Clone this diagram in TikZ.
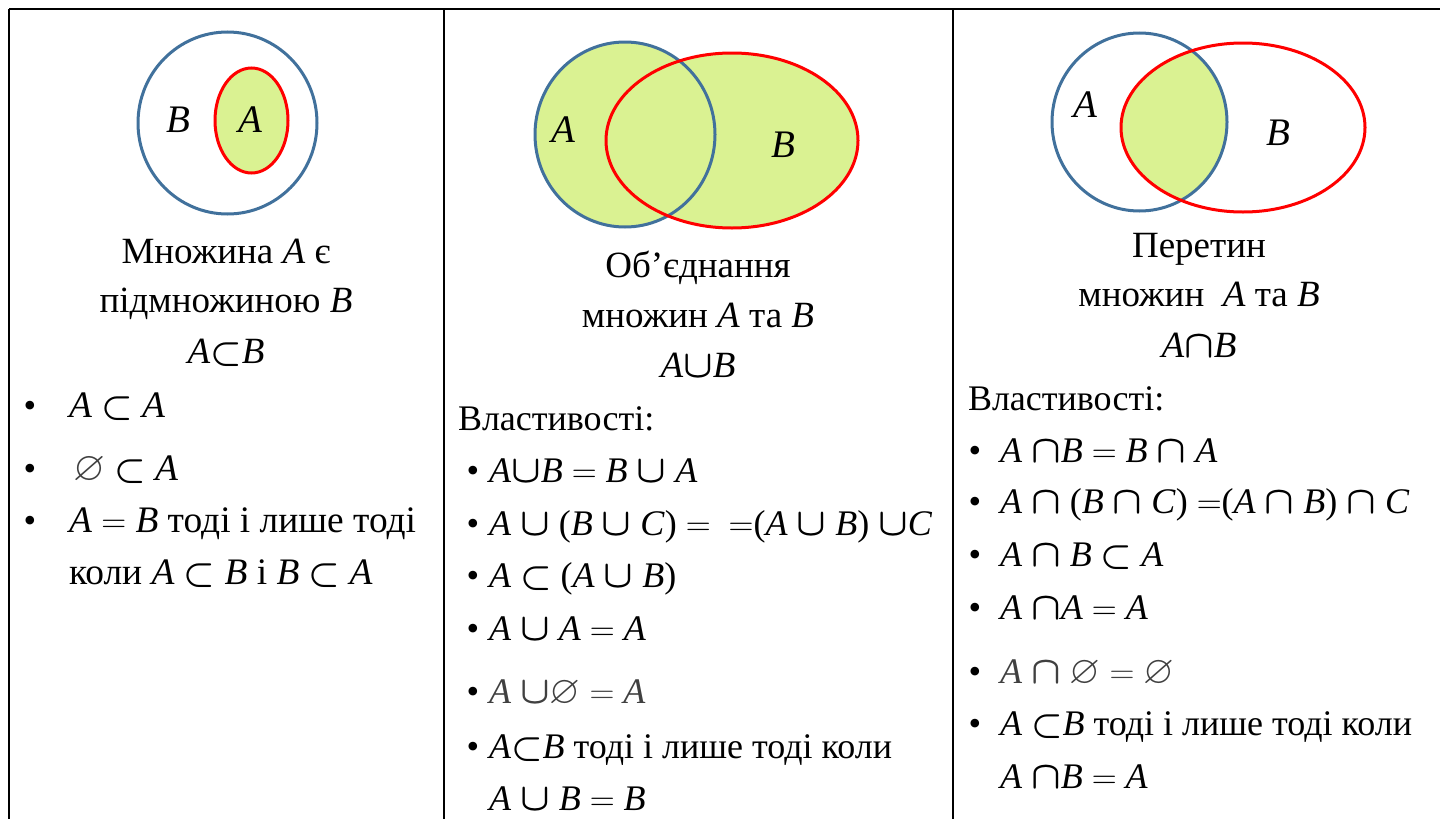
\documentclass[tikz,border=0pt]{standalone}
\usepackage{amsmath,amssymb}
\usepackage{fontspec}
\setmainfont{Liberation Serif}
\definecolor{vblue}{RGB}{65,113,156}
\definecolor{vred}{RGB}{255,0,0}
\definecolor{vfill}{RGB}{218,242,146}
\definecolor{vgray}{RGB}{64,64,64}
\newcommand{\I}[1]{\textit{#1}}
\newcommand{\sU}{\scalebox{1.12}{$\boldsymbol{\cup}$}}
\newcommand{\sN}{\scalebox{1.12}{$\boldsymbol{\cap}$}}
\newcommand{\sS}{\scalebox{1.02}{$\boldsymbol{\subset}$}}
\newcommand{\sE}{\scalebox{1.1}{$\varnothing$}}
\newcommand{\sQ}{$=$}
\begin{document}
\begin{tikzpicture}[x=0.5pt,y=-0.5pt,
  every node/.style={inner sep=0pt,outer sep=0pt},
  body/.style={font=\fontsize{18}{20}\selectfont},
  bodyone/.style={font=\fontsize{18.7}{21}\selectfont},
  item/.style={body,anchor=base west},
  itemone/.style={bodyone,anchor=base west},
  title/.style={font=\fontsize{18.5}{20}\selectfont,anchor=base},
  blt/.style={body,anchor=base},
  lbl/.style={font=\fontsize{19.5}{21}\selectfont\itshape},
  grid/.style={line width=1.3pt,black},
  bline/.style={line width=1.5pt,vblue},
  rline/.style={line width=1.5pt,vred}]
\useasboundingbox (0,0) rectangle (1440,819);
% table lines
\draw[grid] (9,9) -- (1440,9);
\draw[grid] (9,9) -- (9,819);
\draw[grid] (444,9) -- (444,819);
\draw[grid] (953,9) -- (953,819);

% ---- column 1: subset ----
\draw[bline] (227.5,123) ellipse [x radius=89.5,y radius=91];
\draw[rline,fill=vfill] (251.5,120.5) ellipse [x radius=36.5,y radius=52.5];
\node[lbl] (c1B) at (178,120) {B};
\node[lbl] (c1A) at (250,120) {A};

\node[title] (t11) at (226,263) {Множина \I{A} є};
\node[title] (t12) at (226,312) {підмножиною \I{B}};
\node[title] (t13) at (226,363) {\I{A}\sS\I{B}};

\node[blt] (b11) at (30,417) {•};
\node[itemone] (i11) at (69,417) {\I{A} \sS\ \I{A}};
\node[blt] (b12) at (30,480) {•};
\node[itemone] (i12) at (69,480) {\hspace{2pt}{\color{vgray}\sE} \sS\ \I{A}};
\node[blt] (b13) at (30,532) {•};
\node[itemone] (i13) at (69,532) {\I{A} \sQ\ \I{B} тоді і лише тоді};
\node[itemone] (i14) at (69,584) {коли \I{A} \sS\ \I{B} і \I{B} \sS\ \I{A}};

% ---- column 2: union ----
\fill[vfill] (625,134.5) ellipse [x radius=90,y radius=92.5];
\fill[vfill] (732,140.5) ellipse [x radius=126,y radius=87.5];
\draw[bline] (625,134.5) ellipse [x radius=90,y radius=92.5];
\draw[rline] (732,140.5) ellipse [x radius=126,y radius=87.5];
\node[lbl] (c2A) at (563,130) {A};
\node[lbl] (c2B) at (783,145) {B};

\node[title] (t21) at (698,277) {Об’єднання};
\node[title] (t22) at (698,327) {множин \I{A} та \I{B}};
\node[title] (t23) at (698,377) {\I{A}\sU\I{B}};

\node[item] (p2) at (458,430) {Властивості:};
\node[blt] (b21) at (473,482) {•};
\node[item] (i21) at (489,482) {\I{A}\sU\I{B} \sQ\ \I{B} \sU\ \I{A}};
\node[blt] (b22) at (473,535) {•};
\node[item] (i22) at (489,535) {\I{A} \sU\ (\I{B} \sU\ \I{C}) \sQ\ \ \sQ(\I{A} \sU\ \I{B}) \sU\I{C}};
\node[blt] (b23) at (473,587) {•};
\node[item] (i23) at (489,587) {\I{A} \sS\ (\I{A} \sU\ \I{B})};
\node[blt] (b24) at (473,640) {•};
\node[item] (i24) at (489,640) {\I{A} \sU\ \I{A} \sQ\ \I{A}};
\node[blt] (b25) at (473,703) {•};
\node[item,text=vgray] (i25) at (489,703) {\I{A} \sU\sE\ \sQ\ \I{A}};
\node[blt] (b26) at (473,758) {•};
\node[item] (i26) at (489,758) {\I{A}\sS\I{B} тоді і лише тоді коли};
\node[item] (i27) at (489,810) {\I{A} \sU\ \I{B} \sQ\ \I{B}};

% ---- column 3: intersection ----
\begin{scope}
  \clip (1139.5,122) ellipse [x radius=87.5,y radius=89];
  \fill[vfill] (1243,127.5) ellipse [x radius=122,y radius=84.5];
\end{scope}
\draw[bline] (1139.5,122) ellipse [x radius=87.5,y radius=89];
\draw[rline] (1243,127.5) ellipse [x radius=122,y radius=84.5];
\node[lbl] (c3A) at (1085,105) {A};
\node[lbl] (c3B) at (1278,133) {B};

\node[title] (t31) at (1199,257) {Перетин};
\node[title] (t32) at (1199,306) {множин\ \ \I{A} та \I{B}};
\node[title] (t33) at (1199,357) {\I{A}\sN\I{B}};

\node[item] (p3) at (968,410) {Властивості:};
\node[blt] (b31) at (975,462) {•};
\node[item] (i31) at (1000,462) {\I{A} \sN\I{B} \sQ\ \I{B} \sN\ \I{A}};
\node[blt] (b32) at (975,513) {•};
\node[item] (i32) at (1000,513) {\I{A} \sN\ (\I{B} \sN\ \I{C}) \sQ(\I{A} \sN\ \I{B}) \sN\ \I{C}};
\node[blt] (b33) at (975,566) {•};
\node[item] (i33) at (1000,566) {\I{A} \sN\ \I{B} \sS\ \I{A}};
\node[blt] (b34) at (975,619) {•};
\node[item] (i34) at (1000,619) {\I{A} \sN\I{A} \sQ\ \I{A}};
\node[blt] (b35) at (975,683) {•};
\node[item,text=vgray] (i35) at (1000,683) {\I{A} \sN\ \sE\ \sQ\ \sE};
\node[blt] (b36) at (975,735) {•};
\node[item] (i36) at (1000,735) {\I{A} \sS\I{B} тоді і лише тоді коли};
\node[item] (i37) at (1000,788) {\I{A} \sN\I{B} \sQ\ \I{A}};
\end{tikzpicture}
\end{document}
